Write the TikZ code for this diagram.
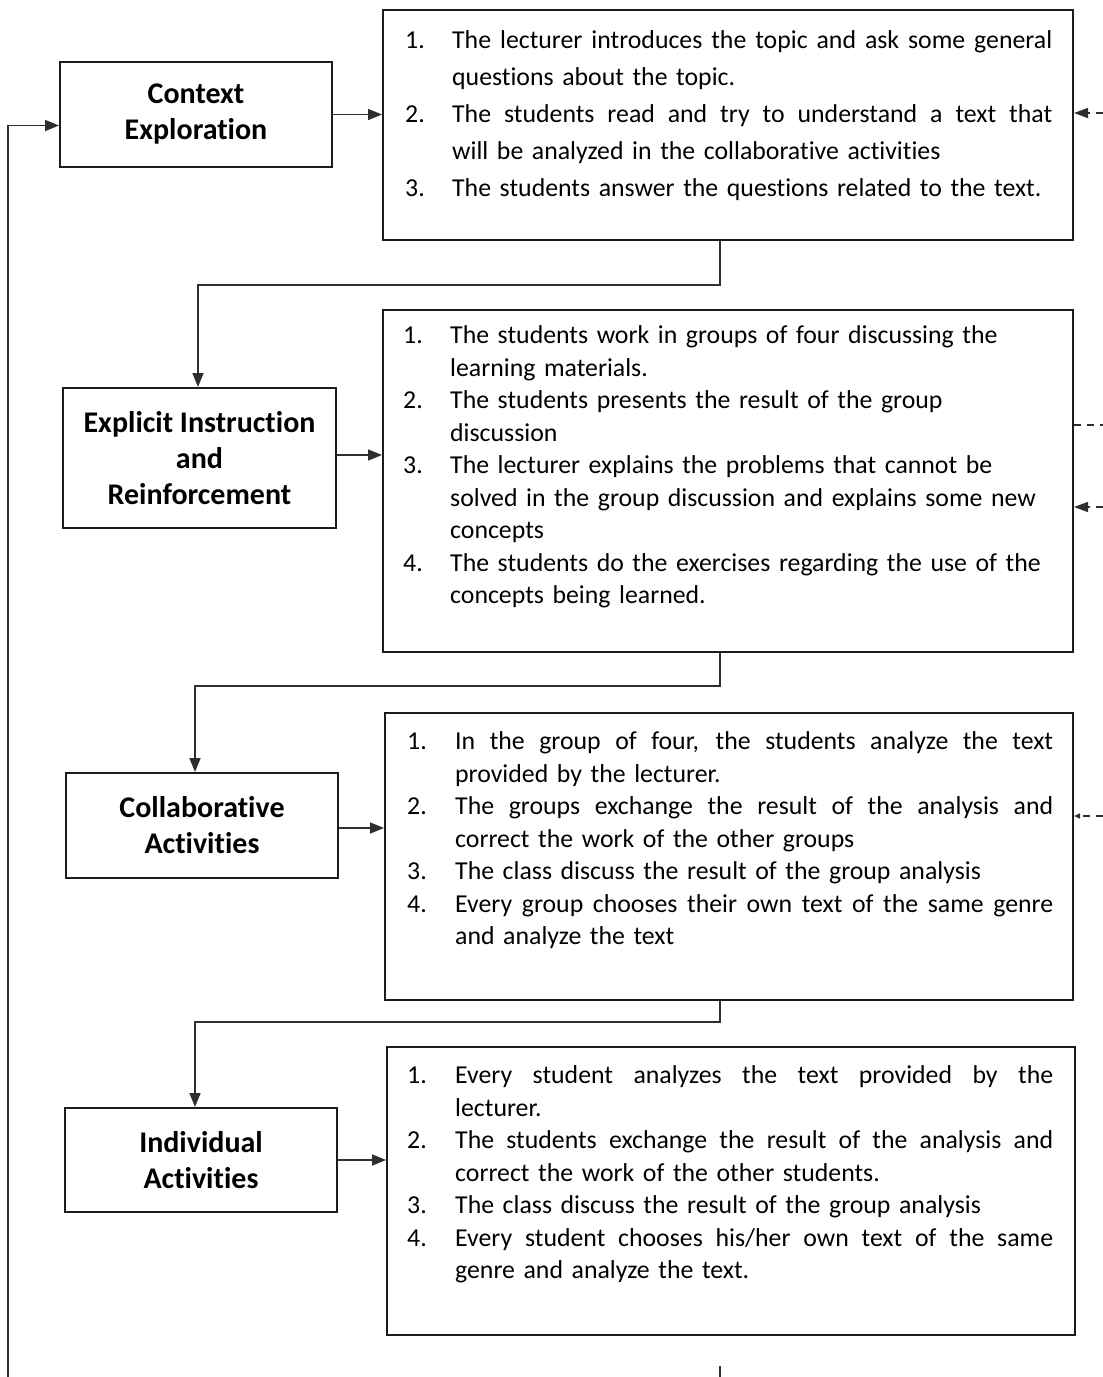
\documentclass[tikz,border=0pt]{standalone}
\usepackage{fontspec}
\setmainfont{Carlito}[Ligatures=NoCommon]
\usetikzlibrary{arrows.meta}

\definecolor{ink}{HTML}{1C1C1C}
\definecolor{wire}{HTML}{2E2E2E}

\newlength\numw
\newlength\txtw
% one printed line of a numbered list: number column, then the text as set
\newcommand\Row[2]{\noindent\strut\makebox[\numw][l]{#1}\makebox[\txtw][l]{#2}\par}
% the same, with the word spaces stretched to the full text width
\newcommand\JRow[2]{\noindent\strut\makebox[\numw][l]{#1}%
  \hbox to \txtw{\spaceskip=\fontdimen2\font plus 1fil minus 0.15em\relax #2}\par}

\begin{document}
\begin{tikzpicture}[x=1pt,y=-1pt,
  stage/.style={draw=ink, line width=2pt, inner sep=0pt, align=center,
    font=\bfseries\fontsize{30}{36}\selectfont, text=black},
  panel/.style={draw=ink, line width=2pt, inner sep=0pt},
  steps/.style={anchor=north west, inner sep=0pt, text width=#1, align=left,
    font=\fontsize{25.8}{32.5}\selectfont},
  arr/.style={draw=wire, line width=1.6pt, -{Triangle[length=14pt,width=11pt]}},
  plain/.style={draw=wire, line width=1.6pt},
  loop/.style={draw=wire, line width=1.4pt, dash pattern=on 7pt off 6pt},
  looparr/.style={loop, -{Triangle[length=14pt,width=10pt]}}
]
\useasboundingbox (0,0) rectangle (1103,1377);

% stage boxes on the left
\node[stage, minimum width=272pt, minimum height=105pt] (lb1) at (196,114.5) {Context\\Exploration};
\node[stage, minimum width=273pt, minimum height=140pt] (lb2) at (199.5,458) {Explicit Instruction\\and\\Reinforcement};
\node[stage, minimum width=272pt, minimum height=105pt] (lb3) at (202,825.5) {Collaborative\\Activities};
\node[stage, minimum width=272pt, minimum height=104pt] (lb4) at (201,1160) {Individual\\Activities};

% activity panels on the right
\node[panel, minimum width=690pt, minimum height=230pt] (rb1) at (728,125) {};
\node[panel, minimum width=690pt, minimum height=342pt] (rb2) at (728,481) {};
\node[panel, minimum width=688pt, minimum height=287pt] (rb3) at (729,856.5) {};
\node[panel, minimum width=688pt, minimum height=288pt] (rb4) at (731,1191) {};

% panel texts
\node[steps=647pt, font=\fontsize{25.8}{37}\selectfont] (t1) at (405,22.6) {%
  \setlength\numw{47pt}\setlength\txtw{600pt}%
  \JRow{1.}{The lecturer introduces the topic and ask some general}
  \Row{}{questions about the topic.}
  \JRow{2.}{The students read and try to understand a text that}
  \Row{}{will be analyzed in the collaborative activities}
  \Row{3.}{The students answer the questions related to the text.}};

\node[steps=647pt] (t2) at (403,320.75) {%
  \setlength\numw{47pt}\setlength\txtw{600pt}%
  \Row{1.}{The students work in groups of four discussing the}
  \Row{}{learning materials.}
  \Row{2.}{The students presents the result of the group}
  \Row{}{discussion}
  \Row{3.}{The lecturer explains the problems that cannot be}
  \Row{}{solved in the group discussion and explains some new}
  \Row{}{concepts}
  \Row{4.}{The students do the exercises regarding the use of the}
  \Row{}{concepts being learned.}};

\node[steps=646pt] (t3) at (407,726.75) {%
  \setlength\numw{48pt}\setlength\txtw{598pt}%
  \JRow{1.}{In the group of four, the students analyze the text}
  \Row{}{provided by the lecturer.}
  \JRow{2.}{The groups exchange the result of the analysis and}
  \Row{}{correct the work of the other groups}
  \Row{3.}{The class discuss the result of the group analysis}
  \JRow{4.}{Every group chooses their own text of the same genre}
  \Row{}{and analyze the text}};

\node[steps=646pt] (t4) at (407,1060.75) {%
  \setlength\numw{48pt}\setlength\txtw{598pt}%
  \JRow{1.}{Every student analyzes the text provided by the}
  \Row{}{lecturer.}
  \JRow{2.}{The students exchange the result of the analysis and}
  \Row{}{correct the work of the other students.}
  \Row{3.}{The class discuss the result of the group analysis}
  \JRow{4.}{Every student chooses his/her own text of the same}
  \Row{}{genre and analyze the text.}};

% stage -> panel arrows
\draw[arr] (lb1.east) -- (lb1.east -| rb1.west);
\draw[arr] ([yshift=3pt]lb2.east) -- ([yshift=3pt]lb2.east -| rb2.west);
\draw[arr] ([yshift=-2.5pt]lb3.east) -- ([yshift=-2.5pt]lb3.east -| rb3.west);
\draw[arr] (lb4.east) -- (lb4.east -| rb4.west);

% panel -> next stage
\coordinate (k1) at (720,285);
\coordinate (k2) at (720,686);
\coordinate (k3) at (720,1022);
\draw[arr] (rb1.south -| k1) -- (k1) -| ([xshift=-1.5pt]lb2.north);
\draw[arr] (rb2.south -| k2) -- (k2) -| ([xshift=-7pt]lb3.north);
\draw[arr] (rb3.south -| k3) -- (k3) -| ([xshift=-6pt]lb4.north);

% return path along the left edge
\coordinate (fb) at (8,1377);
\draw[arr] (fb) |- ([yshift=-11pt]lb1.west);

% line leaving the last panel area downward
\coordinate (k4a) at (720,1366);
\coordinate (k4b) at (720,1377);
\draw[plain] (k4a) -- (k4b);

% dashed links at the right edge
\coordinate (e1) at (1103,113);
\coordinate (e2) at (1103,425);
\coordinate (e3) at (1103,507);
\coordinate (e4) at (1103,816);
\draw[looparr] (e1) -- (e1 -| rb1.east);
\draw[loop] (e2 -| rb2.east) -- (e2);
\draw[looparr] (e3) -- (e3 -| rb2.east);
\draw[loop, -{Triangle[length=6pt,width=5pt]}] (e4) -- (e4 -| rb3.east);
\end{tikzpicture}
\end{document}
